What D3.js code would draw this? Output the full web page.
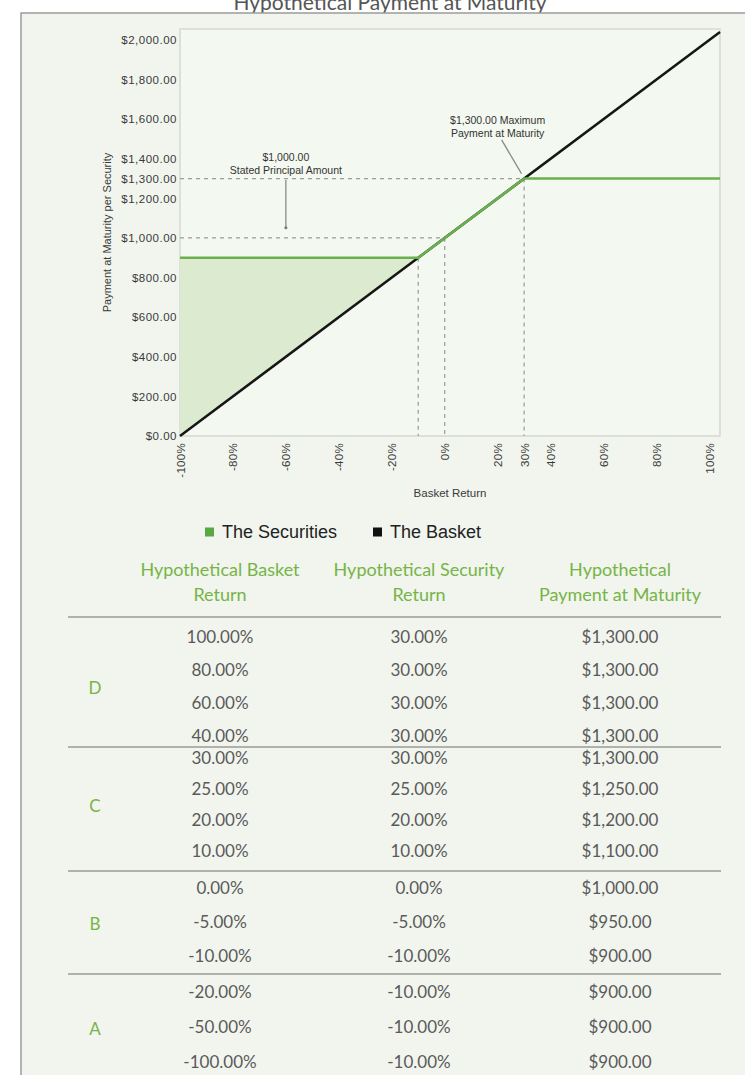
<!DOCTYPE html>
<html>
<head>
<meta charset="utf-8">
<script src="https://cdn.jsdelivr.net/npm/d3@7"></script>
<style>
  body { margin: 0; background: #fff; }
  svg { display: block; }
  .tick text { font-family: "Liberation Sans", Arial, sans-serif; fill: #3a3a3a; }
  .tbl { font-family: Lato, "Open Sans", sans-serif; }
</style>
</head>
<body>
<script>
const W = 745;
const H = 1075;

// chart values
const basketReturns = [-100, 104];
const basketPayments = [0, 2040];
const securityReturns = [-100, -10, 30, 104];
const securityPayments = [900, 900, 1300, 1300];
const shadeReturns = [-100, -10];
const shadeTop = [900, 900];
const shadeBottom = [0, 900];

const yTicks = [0, 200, 400, 600, 800, 1000, 1200, 1300, 1400, 1600, 1800, 2000];
const xTicks = [-100, -80, -60, -40, -20, 0, 20, 30, 40, 60, 80, 100];

const principal = 1000;
const maxPayment = 1300;
const floorPayment = 900;
const bufferReturn = -10;
const capReturn = 30;

// table values
const headers = [["Hypothetical Basket", "Return"], ["Hypothetical Security", "Return"], ["Hypothetical", "Payment at Maturity"]];
const groups = ["D", "C", "B", "A"];
const rowGroup = ["D", "D", "D", "D", "C", "C", "C", "C", "B", "B", "B", "A", "A", "A"];
const basketCol = ["100.00%", "80.00%", "60.00%", "40.00%", "30.00%", "25.00%", "20.00%", "10.00%", "0.00%", "-5.00%", "-10.00%", "-20.00%", "-50.00%", "-100.00%"];
const securityCol = ["30.00%", "30.00%", "30.00%", "30.00%", "30.00%", "25.00%", "20.00%", "10.00%", "0.00%", "-5.00%", "-10.00%", "-10.00%", "-10.00%", "-10.00%"];
const paymentCol = ["$1,300.00", "$1,300.00", "$1,300.00", "$1,300.00", "$1,300.00", "$1,250.00", "$1,200.00", "$1,100.00", "$1,000.00", "$950.00", "$900.00", "$900.00", "$900.00", "$900.00"];

const green = "#6bb04e";
const headGreen = "#76b447";

const svg = d3.select("body").append("svg")
    .attr("width", W)
    .attr("height", H);

// title, cut by the top edge
svg.append("text")
    .attr("x", 390)
    .attr("y", 10)
    .attr("text-anchor", "middle")
    .attr("font-family", "Lato, sans-serif")
    .attr("font-size", 21)
    .attr("fill", "#555")
    .text("Hypothetical Payment at Maturity");

// panel
svg.append("rect")
    .attr("x", 21)
    .attr("y", 13)
    .attr("width", W)
    .attr("height", H)
    .attr("fill", "#f1f5ee")
    .attr("stroke", "#9c9c9c")
    .attr("stroke-width", 1.5);

const plot = { left: 180, right: 720, top: 29, bottom: 436 };

const x = d3.scaleLinear().domain([-100, 104]).range([plot.left, plot.right]);
const y = d3.scaleLinear().domain([0, 2055]).range([plot.bottom, plot.top]);

svg.append("rect")
    .attr("x", plot.left)
    .attr("y", plot.top)
    .attr("width", plot.right - plot.left)
    .attr("height", plot.bottom - plot.top)
    .attr("fill", "#f3f8f0")
    .attr("stroke", "#d5d9d2")
    .attr("stroke-width", 1.5);

// shaded zone between floor and basket
const shade = shadeReturns.map((r, i) => ({ r, top: shadeTop[i], bot: shadeBottom[i] }));
svg.append("path")
    .datum(shade)
    .attr("fill", "#dcebd0")
    .attr("d", d3.area().x(d => x(d.r)).y0(d => y(d.bot)).y1(d => y(d.top)));

// dashed guides
const dash = svg.append("g")
    .attr("stroke", "#9a9a9a")
    .attr("stroke-width", 1.2)
    .attr("stroke-dasharray", "4,4")
    .attr("fill", "none");

dash.append("line")
    .attr("x1", x(-100)).attr("x2", x(capReturn))
    .attr("y1", y(maxPayment)).attr("y2", y(maxPayment));
dash.append("line")
    .attr("x1", x(-100)).attr("x2", x(0))
    .attr("y1", y(principal)).attr("y2", y(principal));
dash.append("line")
    .attr("x1", x(bufferReturn)).attr("x2", x(bufferReturn))
    .attr("y1", y(floorPayment)).attr("y2", y(0));
dash.append("line")
    .attr("x1", x(0)).attr("x2", x(0))
    .attr("y1", y(principal)).attr("y2", y(0));
dash.append("line")
    .attr("x1", x(capReturn)).attr("x2", x(capReturn))
    .attr("y1", y(maxPayment)).attr("y2", y(0));

const line = d3.line().x(d => x(d.r)).y(d => y(d.v));

svg.append("path")
    .datum(basketReturns.map((r, i) => ({ r, v: basketPayments[i] })))
    .attr("fill", "none")
    .attr("stroke", "#161616")
    .attr("stroke-width", 2.5)
    .attr("d", line);

svg.append("path")
    .datum(securityReturns.map((r, i) => ({ r, v: securityPayments[i] })))
    .attr("fill", "none")
    .attr("stroke", green)
    .attr("stroke-width", 2.5)
    .attr("d", line);

// axes
const yAxis = svg.append("g")
    .attr("transform", `translate(${plot.left},0)`)
    .call(d3.axisLeft(y).tickValues(yTicks).tickSize(0).tickPadding(3)
        .tickFormat(d => "$" + d3.format(",.2f")(d)));
yAxis.select(".domain").remove();
yAxis.selectAll("text").attr("font-size", 11.5).attr("letter-spacing", 0.5);

const xAxis = svg.append("g")
    .attr("transform", `translate(0,${plot.bottom})`)
    .call(d3.axisBottom(x).tickValues(xTicks).tickSize(0).tickFormat(d => d + "%"));
xAxis.select(".domain").remove();
xAxis.selectAll("text")
    .attr("font-size", 11.5)
    .attr("letter-spacing", 0.3)
    .attr("text-anchor", "end")
    .attr("transform", "translate(0,7) rotate(-90)")
    .attr("x", 0)
    .attr("y", 0)
    .attr("dy", "0.35em");

svg.append("text")
    .attr("x", (plot.left + plot.right) / 2)
    .attr("y", 497)
    .attr("text-anchor", "middle")
    .attr("font-family", "Liberation Sans, Arial, sans-serif")
    .attr("font-size", 11.5)
    .attr("fill", "#3a3a3a")
    .text("Basket Return");

svg.append("text")
    .attr("transform", `translate(107,${(plot.top + plot.bottom) / 2}) rotate(-90)`)
    .attr("text-anchor", "middle")
    .attr("dy", "0.35em")
    .attr("font-family", "Liberation Sans, Arial, sans-serif")
    .attr("font-size", 11)
    .attr("fill", "#3a3a3a")
    .text("Payment at Maturity per Security");

// annotations
function note(cx, cy, lines) {
    svg.append("text")
        .attr("x", cx)
        .attr("y", cy)
        .attr("text-anchor", "middle")
        .attr("font-family", "Liberation Sans, Arial, sans-serif")
        .attr("font-size", 10.5)
        .attr("fill", "#333")
        .selectAll("tspan")
        .data(lines)
        .join("tspan")
        .attr("x", cx)
        .attr("dy", (d, i) => i ? 13 : 0)
        .text(d => d);
}
note(x(-60), 161, ["$1,000.00", "Stated Principal Amount"]);
svg.append("line")
    .attr("x1", x(-60)).attr("x2", x(-60))
    .attr("y1", y(1292)).attr("y2", y(1052))
    .attr("stroke", "#8a8a8a").attr("stroke-width", 1.3);
svg.append("circle")
    .attr("cx", x(-60)).attr("cy", y(1052)).attr("r", 1.5).attr("fill", "#777");

note(x(20), 124, ["$1,300.00 Maximum", "Payment at Maturity"]);
svg.append("line")
    .attr("x1", x(21.5)).attr("x2", x(29))
    .attr("y1", y(1495)).attr("y2", y(1325))
    .attr("stroke", "#8a8a8a").attr("stroke-width", 1.3);

// legend
const legendItems = [
    { name: "The Securities", color: "#5aa843", x: 205 },
    { name: "The Basket", color: "#111", x: 373 }
];
const lg = svg.append("g").selectAll("g").data(legendItems).join("g")
    .attr("transform", d => `translate(${d.x},532)`);
lg.append("rect").attr("x", 0).attr("y", -4.5).attr("width", 9).attr("height", 9).attr("fill", d => d.color);
lg.append("text")
    .attr("x", 17)
    .attr("dy", "0.35em")
    .attr("font-family", "Liberation Sans, Arial, sans-serif")
    .attr("font-size", 18)
    .attr("fill", "#222")
    .text(d => d.name);

// table
const colX = [220, 419, 620];
const tbl = svg.append("g").attr("class", "tbl");

headers.forEach((h, c) => {
    tbl.append("text")
        .attr("text-anchor", "middle")
        .attr("font-size", 18)
        .attr("fill", headGreen)
        .selectAll("tspan").data(h).join("tspan")
        .attr("x", colX[c])
        .attr("y", (d, i) => 576 + i * 25)
        .text(d => d);
});

// group layout: separator above, first row, row step
const groupLayout = {
    D: { sep: 617, first: 637, step: 33 },
    C: { sep: 747, first: 758, step: 31 },
    B: { sep: 871, first: 888, step: 34 },
    A: { sep: 974, first: 992, step: 35 }
};

const rowY = rowGroup.map((g, i) => {
    const k = rowGroup.slice(0, i).filter(d => d === g).length;
    return groupLayout[g].first + k * groupLayout[g].step;
});

tbl.selectAll("line.sep").data(groups).join("line")
    .attr("class", "sep")
    .attr("x1", 68).attr("x2", 721)
    .attr("y1", g => groupLayout[g].sep).attr("y2", g => groupLayout[g].sep)
    .attr("stroke", "#aeb2ab")
    .attr("stroke-width", 2);

tbl.selectAll("text.grp").data(groups).join("text")
    .attr("class", "grp")
    .attr("x", 95)
    .attr("y", g => {
        const ys = rowY.filter((d, i) => rowGroup[i] === g);
        return (ys[0] + ys[ys.length - 1]) / 2 + 2;
    })
    .attr("dy", "0.35em")
    .attr("text-anchor", "middle")
    .attr("font-size", 17)
    .attr("fill", headGreen)
    .text(g => g);

[basketCol, securityCol, paymentCol].forEach((col, c) => {
    tbl.selectAll(null).data(col).join("text")
        .attr("x", colX[c])
        .attr("y", (d, i) => rowY[i])
        .attr("dy", "0.35em")
        .attr("text-anchor", "middle")
        .attr("font-size", 17)
        .attr("fill", "#5a5a5a")
        .text(d => d);
});
</script>
</body>
</html>
